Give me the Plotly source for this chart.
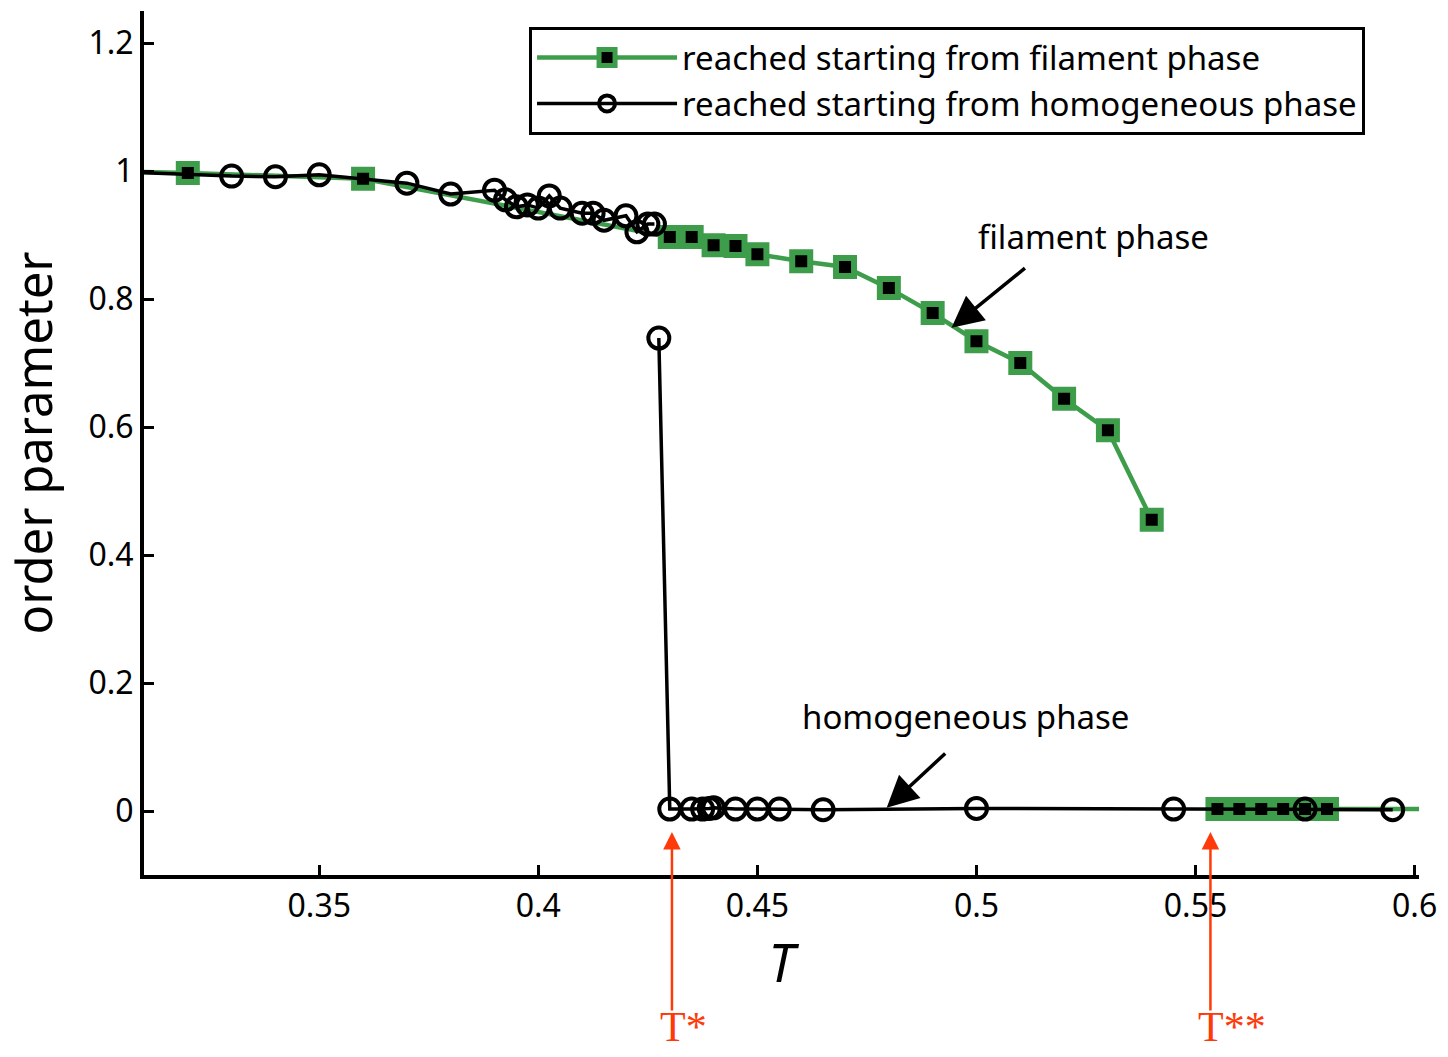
import plotly.graph_objects as go

# ---- data ----
# filament branch (green squares)
T_fil_hi = [0.30, 0.32, 0.36, 0.43, 0.435, 0.44, 0.445, 0.45, 0.46, 0.47, 0.48,
            0.49, 0.50, 0.51, 0.52, 0.53, 0.54]
op_fil_hi = [1.0, 0.997, 0.988, 0.897, 0.897, 0.884, 0.883, 0.870, 0.859, 0.850,
             0.817, 0.778, 0.734, 0.700, 0.644, 0.595, 0.455]
T_fil_lo = [0.555, 0.56, 0.565, 0.57, 0.575, 0.58, 0.61]
op_fil_lo = [0.003, 0.003, 0.003, 0.003, 0.003, 0.003, 0.003]

# homogeneous-start branch (black circles)
T_hom_hi = [0.30, 0.33, 0.34, 0.35, 0.37, 0.38, 0.39, 0.3925, 0.395, 0.3975, 0.40,
            0.4025, 0.405, 0.41, 0.4125, 0.415, 0.42, 0.4225, 0.425, 0.4265]
op_hom_hi = [1.0, 0.992, 0.991, 0.994, 0.981, 0.964, 0.970, 0.955, 0.944, 0.947, 0.942,
             0.961, 0.942, 0.934, 0.934, 0.923, 0.930, 0.905, 0.917, 0.917]
T_hom_lo = [0.4275, 0.43, 0.435, 0.4375, 0.439, 0.44, 0.445, 0.45, 0.455, 0.465,
            0.50, 0.545, 0.575, 0.595]
op_hom_lo = [0.739, 0.003, 0.003, 0.003, 0.004, 0.005, 0.003, 0.003, 0.003, 0.002,
             0.004, 0.003, 0.003, 0.002]

x_ticks = [0.35, 0.4, 0.45, 0.5, 0.55, 0.6]
x_ticktext = ["0.35", "0.4", "0.45", "0.5", "0.55", "0.6"]
y_ticks = [0, 0.2, 0.4, 0.6, 0.8, 1.0, 1.2]
y_ticktext = ["0", "0.2", "0.4", "0.6", "0.8", "1", "1.2"]

T_star = 0.4305
T_star2 = 0.5534

GREEN = "#3d9d4b"
RED = "#ff3a0a"
FONT = "Noto Sans"

fig = go.Figure()

fig.add_trace(go.Scatter(
    x=T_fil_hi + [None] + T_fil_lo,
    y=op_fil_hi + [None] + op_fil_lo,
    mode="lines+markers",
    name="reached starting from filament phase",
    line=dict(color=GREEN, width=4.5),
    marker=dict(symbol="square", size=18, color="black",
                line=dict(color=GREEN, width=6)),
    connectgaps=False, cliponaxis=True,
))
fig.add_trace(go.Scatter(
    x=T_hom_hi + [None] + T_hom_lo,
    y=op_hom_hi + [None] + op_hom_lo,
    mode="lines+markers",
    name="reached starting from homogeneous phase",
    line=dict(color="black", width=3.5),
    marker=dict(symbol="circle-open", size=21, color="black",
                line=dict(color="black", width=4)),
    connectgaps=False, cliponaxis=True,
))

annotations = [
    # phase labels
    dict(x=0.5268, y=0.898, xref="x", yref="y", text="filament phase",
         showarrow=False, font=dict(family=FONT, size=33, color="black")),
    dict(x=0.4975, y=0.147, xref="x", yref="y", text="homogeneous phase",
         showarrow=False, font=dict(family=FONT, size=33, color="black")),
    # phase arrows
    dict(x=0.4943, y=0.755, ax=0.5114, ay=0.85, xref="x", yref="y",
         axref="x", ayref="y", text="", showarrow=True, arrowhead=2,
         arrowsize=1.8, arrowwidth=3.5, arrowcolor="black"),
    dict(x=0.4795, y=0.005, ax=0.4932, ay=0.092, xref="x", yref="y",
         axref="x", ayref="y", text="", showarrow=True, arrowhead=2,
         arrowsize=1.8, arrowwidth=3.5, arrowcolor="black"),
    # red T* arrows
    dict(x=T_star, y=-0.033, ax=T_star, ay=-0.314, xref="x", yref="y",
         axref="x", ayref="y", text="", showarrow=True, arrowhead=2,
         arrowsize=1.4, arrowwidth=2.5, arrowcolor=RED),
    dict(x=T_star2, y=-0.033, ax=T_star2, ay=-0.314, xref="x", yref="y",
         axref="x", ayref="y", text="", showarrow=True, arrowhead=2,
         arrowsize=1.4, arrowwidth=2.5, arrowcolor=RED),
    dict(x=T_star, y=-0.176, xref="x", yref="paper", text="T*", xanchor="left",
         yanchor="middle", xshift=-14, showarrow=False,
         font=dict(family="Liberation Serif", size=42, color=RED)),
    dict(x=T_star2, y=-0.176, xref="x", yref="paper", text="T**", xanchor="left",
         yanchor="middle", xshift=-14, showarrow=False,
         font=dict(family="Liberation Serif", size=42, color=RED)),
]

fig.update_layout(
    width=1448, height=1057,
    margin=dict(l=144, r=24, t=11, b=182, pad=0),
    paper_bgcolor="white", plot_bgcolor="white",
    font=dict(family=FONT, color="black"),
    showlegend=True,
    legend=dict(x=0.302, y=0.982, xanchor="left", yanchor="top",
                bgcolor="white", bordercolor="black", borderwidth=3,
                font=dict(family=FONT, size=33, color="black"),
                itemwidth=140, tracegroupgap=0),
    annotations=annotations,
    xaxis=dict(range=[0.31, 0.601], tickvals=x_ticks, ticktext=x_ticktext,
               ticks="inside", ticklen=10, tickwidth=3, tickcolor="black",
               showline=True, linecolor="black", linewidth=4,
               showgrid=False, zeroline=False,
               tickfont=dict(family=FONT, size=32, color="black"),
               title=dict(text="<i>T</i>", font=dict(family=FONT, size=52, color="black"),
                          standoff=6)),
    yaxis=dict(range=[-0.1, 1.25], tickvals=y_ticks, ticktext=y_ticktext,
               ticks="inside", ticklen=10, tickwidth=3, tickcolor="black",
               showline=True, linecolor="black", linewidth=4,
               showgrid=False, zeroline=False,
               tickfont=dict(family=FONT, size=32, color="black"),
               title=dict(text="order parameter",
                          font=dict(family=FONT, size=49, color="black"),
                          standoff=22)),
)

fig.write_html("out.html")
